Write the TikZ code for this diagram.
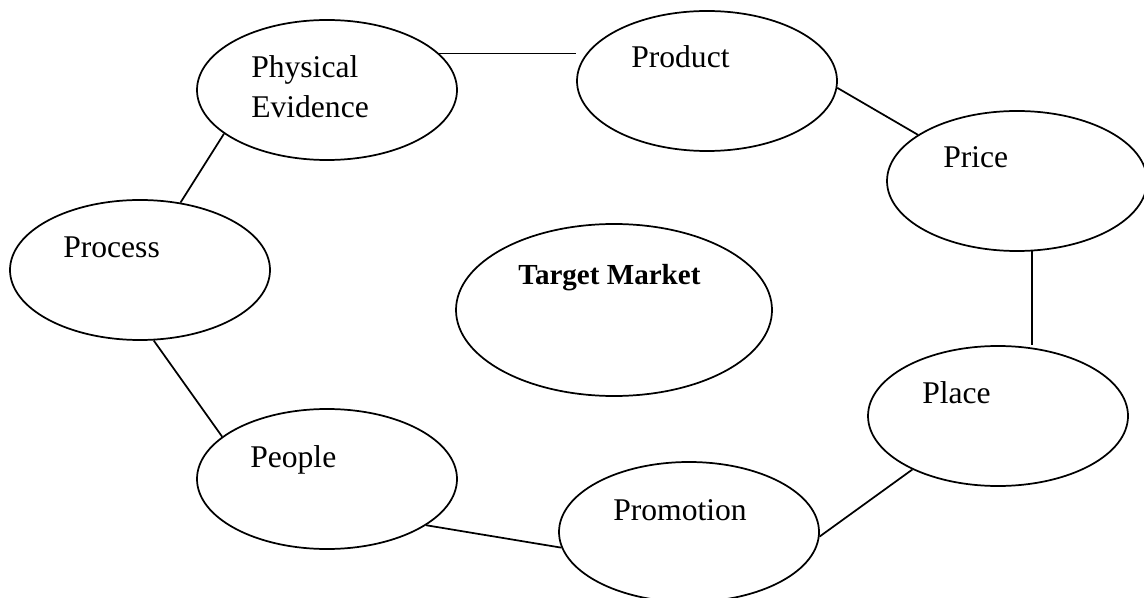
\documentclass[tikz,border=0pt]{standalone}
\usepackage{fontspec}
\setmainfont{Liberation Serif}
\usetikzlibrary{shapes.geometric}

\begin{document}
\begin{tikzpicture}[x=0.75pt,y=0.75pt,yscale=-1,xscale=1,
    oval/.style={draw, ellipse, line width=1.3pt, inner sep=0pt, minimum width=195pt, minimum height=105pt},
    lbl/.style={anchor=base west, inner sep=0pt, font=\fontsize{23.7}{30}\selectfont},
    link/.style={line width=1.3pt}]
    \useasboundingbox (0,0) rectangle (1144,598);

    %Shape: Ellipse
    \node [oval] (pe) at (327,90) {};
    \node [oval] (prod) at (707,81) {};
    \node [oval] (price) at (1017,181) {};
    \node [oval] (place) at (998,416) {};
    \node [oval] (promo) at (689,532) {};
    \node [oval] (people) at (327,479) {};
    \node [oval] (process) at (140,270) {};
    %Shape: Ellipse (centre)
    \node [oval, minimum width=237pt, minimum height=129pt] (tm) at (614,310) {};

    %Straight Lines
    \draw [link] (pe.18) -- (pe.18 -| prod.west);
    \draw [link] (prod.-3) -- (price.155);
    \draw [link] (price.-78) -- (price.-78 |- place.north);
    \draw [link] (place.212) -- (promo.-2);
    \draw [link] (promo.187) -- (people.-25);
    \draw [link] (people.158) -- (process.-79);
    \draw [link] (process.59) -- (pe.203);

    % Text Node
    \node [lbl, anchor=north west, align=left] (pelbl) at (251,55) {Physical\\Evidence};
    % Text Node
    \node [lbl] (prodlbl) at (631,68) {Product};
    % Text Node
    \node [lbl] (pricelbl) at (943,168) {Price};
    % Text Node
    \node [lbl] (proclbl) at (63,258) {Process};
    % Text Node
    \node [lbl, font=\fontsize{21.8}{26}\selectfont\bfseries] (tmlbl) at (518,285) {Target Market};
    % Text Node
    \node [lbl] (placelbl) at (922,403) {Place};
    % Text Node
    \node [lbl] (peoplbl) at (250,467) {People};
    % Text Node
    \node [lbl] (promolbl) at (613,520) {Promotion};

\end{tikzpicture}
\end{document}
